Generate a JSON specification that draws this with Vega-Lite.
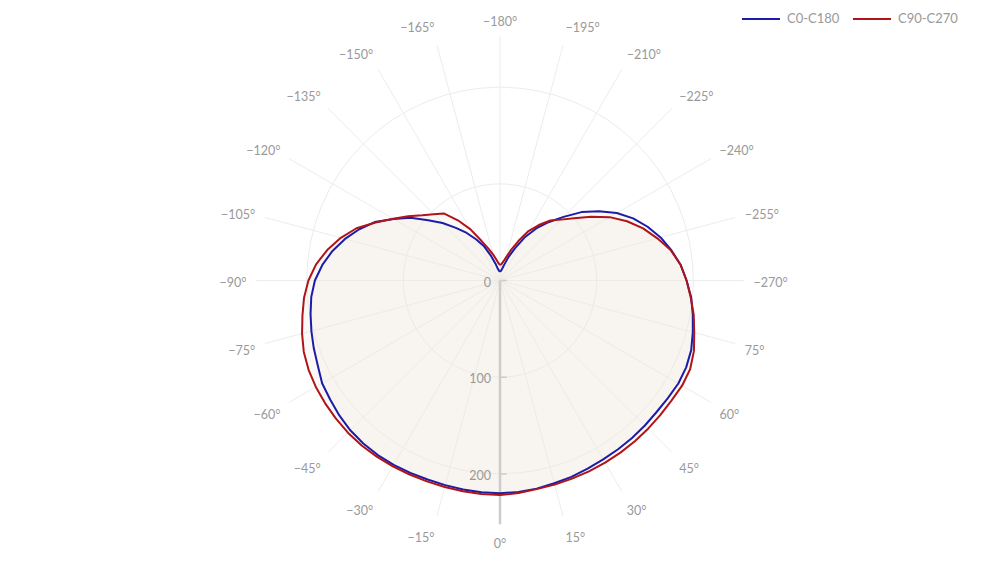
{
  "$schema": "https://vega.github.io/schema/vega-lite/v6.json",
  "width": 580,
  "height": 561,
  "autosize": "none",
  "padding": {"left": 210, "top": 0, "right": 210, "bottom": 2},
  "background": "white",
  "config": {"view": {"stroke": null}},
  "datasets": {
    "curves": [
      {"series": "C0-C180", "angle": -180, "r": 9}, {"series": "C0-C180", "angle": -175, "r": 10}, {"series": "C0-C180", "angle": -170, "r": 12}, {"series": "C0-C180", "angle": -165, "r": 18}, {"series": "C0-C180", "angle": -160, "r": 27}, {"series": "C0-C180", "angle": -155, "r": 39}, {"series": "C0-C180", "angle": -150, "r": 49}, {"series": "C0-C180", "angle": -145, "r": 60}, {"series": "C0-C180", "angle": -140, "r": 71}, {"series": "C0-C180", "angle": -135, "r": 84}, {"series": "C0-C180", "angle": -130, "r": 97}, {"series": "C0-C180", "angle": -125, "r": 113}, {"series": "C0-C180", "angle": -120, "r": 127}, {"series": "C0-C180", "angle": -115, "r": 143}, {"series": "C0-C180", "angle": -110, "r": 155}, {"series": "C0-C180", "angle": -105, "r": 166}, {"series": "C0-C180", "angle": -100, "r": 176}, {"series": "C0-C180", "angle": -95, "r": 184.5}, {"series": "C0-C180", "angle": -90, "r": 191.5}, {"series": "C0-C180", "angle": -85, "r": 196}, {"series": "C0-C180", "angle": -80, "r": 199}, {"series": "C0-C180", "angle": -75, "r": 202}, {"series": "C0-C180", "angle": -70, "r": 205}, {"series": "C0-C180", "angle": -65, "r": 208}, {"series": "C0-C180", "angle": -60, "r": 212.5}, {"series": "C0-C180", "angle": -55, "r": 214.5}, {"series": "C0-C180", "angle": -50, "r": 217}, {"series": "C0-C180", "angle": -45, "r": 219}, {"series": "C0-C180", "angle": -40, "r": 220}, {"series": "C0-C180", "angle": -35, "r": 220.3}, {"series": "C0-C180", "angle": -30, "r": 220}, {"series": "C0-C180", "angle": -25, "r": 219.5}, {"series": "C0-C180", "angle": -20, "r": 219}, {"series": "C0-C180", "angle": -15, "r": 219}, {"series": "C0-C180", "angle": -10, "r": 219.5}, {"series": "C0-C180", "angle": -5, "r": 219.8}, {"series": "C0-C180", "angle": 0, "r": 220}, {"series": "C0-C180", "angle": 5, "r": 219.5}, {"series": "C0-C180", "angle": 10, "r": 218.5}, {"series": "C0-C180", "angle": 15, "r": 217}, {"series": "C0-C180", "angle": 20, "r": 216}, {"series": "C0-C180", "angle": 25, "r": 214.5}, {"series": "C0-C180", "angle": 30, "r": 213.5}, {"series": "C0-C180", "angle": 35, "r": 213}, {"series": "C0-C180", "angle": 40, "r": 212.5}, {"series": "C0-C180", "angle": 45, "r": 212}, {"series": "C0-C180", "angle": 50, "r": 211.5}, {"series": "C0-C180", "angle": 55, "r": 212}, {"series": "C0-C180", "angle": 60, "r": 213}, {"series": "C0-C180", "angle": 65, "r": 212.5}, {"series": "C0-C180", "angle": 70, "r": 210.5}, {"series": "C0-C180", "angle": 75, "r": 206.5}, {"series": "C0-C180", "angle": 80, "r": 202.5}, {"series": "C0-C180", "angle": 85, "r": 198.5}, {"series": "C0-C180", "angle": 90, "r": 193}, {"series": "C0-C180", "angle": 95, "r": 187.5}, {"series": "C0-C180", "angle": 100, "r": 180}, {"series": "C0-C180", "angle": 105, "r": 172}, {"series": "C0-C180", "angle": 110, "r": 162.5}, {"series": "C0-C180", "angle": 115, "r": 152}, {"series": "C0-C180", "angle": 120, "r": 139.5}, {"series": "C0-C180", "angle": 125, "r": 125}, {"series": "C0-C180", "angle": 130, "r": 110}, {"series": "C0-C180", "angle": 135, "r": 93}, {"series": "C0-C180", "angle": 140, "r": 79}, {"series": "C0-C180", "angle": 145, "r": 66}, {"series": "C0-C180", "angle": 150, "r": 52}, {"series": "C0-C180", "angle": 155, "r": 37}, {"series": "C0-C180", "angle": 160, "r": 26}, {"series": "C0-C180", "angle": 165, "r": 17}, {"series": "C0-C180", "angle": 170, "r": 12}, {"series": "C0-C180", "angle": 175, "r": 10}, {"series": "C0-C180", "angle": 180, "r": 9},
      {"series": "C90-C270", "angle": -180, "r": 16}, {"series": "C90-C270", "angle": -175, "r": 18}, {"series": "C90-C270", "angle": -170, "r": 22}, {"series": "C90-C270", "angle": -165, "r": 28}, {"series": "C90-C270", "angle": -160, "r": 35}, {"series": "C90-C270", "angle": -155, "r": 45}, {"series": "C90-C270", "angle": -150, "r": 61}, {"series": "C90-C270", "angle": -145, "r": 76}, {"series": "C90-C270", "angle": -140, "r": 90.5}, {"series": "C90-C270", "angle": -135, "r": 97}, {"series": "C90-C270", "angle": -130, "r": 105}, {"series": "C90-C270", "angle": -125, "r": 116}, {"series": "C90-C270", "angle": -120, "r": 127.5}, {"series": "C90-C270", "angle": -115, "r": 142}, {"series": "C90-C270", "angle": -110, "r": 158}, {"series": "C90-C270", "angle": -105, "r": 170.5}, {"series": "C90-C270", "angle": -100, "r": 181.5}, {"series": "C90-C270", "angle": -95, "r": 191}, {"series": "C90-C270", "angle": -90, "r": 198.2}, {"series": "C90-C270", "angle": -85, "r": 203.5}, {"series": "C90-C270", "angle": -80, "r": 207.5}, {"series": "C90-C270", "angle": -75, "r": 212}, {"series": "C90-C270", "angle": -70, "r": 216}, {"series": "C90-C270", "angle": -65, "r": 218.5}, {"series": "C90-C270", "angle": -60, "r": 220}, {"series": "C90-C270", "angle": -55, "r": 221}, {"series": "C90-C270", "angle": -50, "r": 221.8}, {"series": "C90-C270", "angle": -45, "r": 222.5}, {"series": "C90-C270", "angle": -40, "r": 222.6}, {"series": "C90-C270", "angle": -35, "r": 222.3}, {"series": "C90-C270", "angle": -30, "r": 221.8}, {"series": "C90-C270", "angle": -25, "r": 221.3}, {"series": "C90-C270", "angle": -20, "r": 221}, {"series": "C90-C270", "angle": -15, "r": 221}, {"series": "C90-C270", "angle": -10, "r": 221.2}, {"series": "C90-C270", "angle": -5, "r": 221.5}, {"series": "C90-C270", "angle": 0, "r": 221.8}, {"series": "C90-C270", "angle": 5, "r": 220.5}, {"series": "C90-C270", "angle": 10, "r": 219}, {"series": "C90-C270", "angle": 15, "r": 218.5}, {"series": "C90-C270", "angle": 20, "r": 218}, {"series": "C90-C270", "angle": 25, "r": 217.8}, {"series": "C90-C270", "angle": 30, "r": 217.5}, {"series": "C90-C270", "angle": 35, "r": 217.2}, {"series": "C90-C270", "angle": 40, "r": 217}, {"series": "C90-C270", "angle": 45, "r": 216.7}, {"series": "C90-C270", "angle": 50, "r": 216.4}, {"series": "C90-C270", "angle": 55, "r": 216.5}, {"series": "C90-C270", "angle": 60, "r": 217.5}, {"series": "C90-C270", "angle": 65, "r": 217}, {"series": "C90-C270", "angle": 70, "r": 213.5}, {"series": "C90-C270", "angle": 75, "r": 208}, {"series": "C90-C270", "angle": 80, "r": 203.5}, {"series": "C90-C270", "angle": 85, "r": 198}, {"series": "C90-C270", "angle": 90, "r": 193}, {"series": "C90-C270", "angle": 95, "r": 187.5}, {"series": "C90-C270", "angle": 100, "r": 179.5}, {"series": "C90-C270", "angle": 105, "r": 168.5}, {"series": "C90-C270", "angle": 110, "r": 157.5}, {"series": "C90-C270", "angle": 115, "r": 145}, {"series": "C90-C270", "angle": 120, "r": 131}, {"series": "C90-C270", "angle": 125, "r": 115}, {"series": "C90-C270", "angle": 130, "r": 100}, {"series": "C90-C270", "angle": 135, "r": 89}, {"series": "C90-C270", "angle": 140, "r": 81}, {"series": "C90-C270", "angle": 145, "r": 70}, {"series": "C90-C270", "angle": 150, "r": 59}, {"series": "C90-C270", "angle": 155, "r": 45}, {"series": "C90-C270", "angle": 160, "r": 34}, {"series": "C90-C270", "angle": 165, "r": 25}, {"series": "C90-C270", "angle": 170, "r": 20}, {"series": "C90-C270", "angle": 175, "r": 17}, {"series": "C90-C270", "angle": 180, "r": 16}
    ],
    "spokes": [
      {"angle": 0, "label": "0°"}, {"angle": 15, "label": "15°"}, {"angle": 30, "label": "30°"}, {"angle": 45, "label": "45°"}, {"angle": 60, "label": "60°"}, {"angle": 75, "label": "75°"},
      {"angle": 90, "label": "−270°"}, {"angle": 105, "label": "−255°"}, {"angle": 120, "label": "−240°"}, {"angle": 135, "label": "−225°"}, {"angle": 150, "label": "−210°"}, {"angle": 165, "label": "−195°"},
      {"angle": 180, "label": "−180°"}, {"angle": -165, "label": "−165°"}, {"angle": -150, "label": "−150°"}, {"angle": -135, "label": "−135°"}, {"angle": -120, "label": "−120°"}, {"angle": -105, "label": "−105°"},
      {"angle": -90, "label": "−90°"}, {"angle": -75, "label": "−75°"}, {"angle": -60, "label": "−60°"}, {"angle": -45, "label": "−45°"}, {"angle": -30, "label": "−30°"}, {"angle": -15, "label": "−15°"}
    ],
    "rings": [{"r": 100}, {"r": 200}],
    "rticks": [{"r": 0, "label": "0"}, {"r": 100, "label": "100"}, {"r": 200, "label": "200"}]
  },
  "layer": [
    {
      "data": {"name": "rings"},
      "transform": [{"calculate": "0", "as": "z"}],
      "mark": {"type": "point", "shape": "circle", "filled": false, "color": "#ececec", "strokeWidth": 1, "opacity": 1},
      "encoding": {
        "x": {"field": "z", "type": "quantitative", "scale": {"domain": [-300, 300], "nice": false, "zero": false}, "axis": null},
        "y": {"field": "z", "type": "quantitative", "scale": {"domain": [-290, 290], "nice": false, "zero": false}, "axis": null},
        "size": {"field": "r", "type": "quantitative", "legend": null, "scale": {"type": "pow", "exponent": 2, "domain": [0, 300], "range": [0, 336400], "zero": true}}
      }
    },
    {
      "data": {"name": "spokes"},
      "transform": [
        {"calculate": "0", "as": "z"},
        {"calculate": "252*sin(datum.angle*PI/180)", "as": "gx"},
        {"calculate": "-252*cos(datum.angle*PI/180)", "as": "gy"}
      ],
      "mark": {"type": "rule", "color": "#ececec", "strokeWidth": 1},
      "encoding": {
        "x": {"field": "z", "type": "quantitative"},
        "y": {"field": "z", "type": "quantitative"},
        "x2": {"field": "gx"},
        "y2": {"field": "gy"}
      }
    },
    {
      "data": {"name": "curves"},
      "transform": [
        {"calculate": "datum.r*sin(datum.angle*PI/180)", "as": "x"},
        {"calculate": "-datum.r*cos(datum.angle*PI/180)", "as": "y"}
      ],
      "mark": {"type": "line", "fill": "#efeadc", "fillOpacity": 0.27, "strokeWidth": 0, "strokeOpacity": 0},
      "encoding": {
        "x": {"field": "x", "type": "quantitative"},
        "y": {"field": "y", "type": "quantitative"},
        "detail": {"field": "series", "type": "nominal"},
        "order": {"field": "angle", "type": "quantitative"}
      }
    },
    {
      "data": {"values": [{"a": 0}]},
      "transform": [{"calculate": "0", "as": "z"}, {"calculate": "-252", "as": "ye"}],
      "mark": {"type": "rule", "color": "#cccccc", "strokeWidth": 2.5},
      "encoding": {
        "x": {"field": "z", "type": "quantitative"},
        "y": {"field": "z", "type": "quantitative"},
        "y2": {"field": "ye"}
      }
    },
    {
      "data": {"name": "rticks"},
      "transform": [{"calculate": "-datum.r", "as": "ty"}, {"calculate": "0", "as": "z"}, {"calculate": "7", "as": "xe"}],
      "mark": {"type": "rule", "color": "#cccccc", "strokeWidth": 1.5},
      "encoding": {
        "x": {"field": "z", "type": "quantitative"},
        "x2": {"field": "xe"},
        "y": {"field": "ty", "type": "quantitative"}
      }
    },
    {
      "data": {"name": "rticks"},
      "transform": [{"calculate": "-datum.r", "as": "ty"}, {"calculate": "0", "as": "z"}],
      "mark": {"type": "text", "align": "right", "baseline": "middle", "dx": -9, "dy": 2, "font": "Lato", "fontSize": 12.5, "color": "#999999"},
      "encoding": {
        "x": {"field": "z", "type": "quantitative"},
        "y": {"field": "ty", "type": "quantitative"},
        "text": {"field": "label", "type": "nominal"}
      }
    },
    {
      "data": {"name": "curves"},
      "transform": [
        {"calculate": "datum.r*sin(datum.angle*PI/180)", "as": "x"},
        {"calculate": "-datum.r*cos(datum.angle*PI/180)", "as": "y"}
      ],
      "mark": {"type": "line", "strokeWidth": 2, "strokeJoin": "round"},
      "encoding": {
        "x": {"field": "x", "type": "quantitative"},
        "y": {"field": "y", "type": "quantitative"},
        "order": {"field": "angle", "type": "quantitative"},
        "color": {
          "field": "series",
          "type": "nominal",
          "scale": {"domain": ["C0-C180", "C90-C270"], "range": ["#1c1ca8", "#b01418"]},
          "legend": {"title": null, "orient": "none", "legendX": 531, "legendY": -1, "direction": "horizontal", "symbolType": "stroke", "symbolSize": 1444, "symbolStrokeWidth": 2, "labelFont": "Lato", "labelFontSize": 13, "labelColor": "#999999", "labelOffset": 6, "columnPadding": 9}
        }
      }
    },
    {
      "data": {"name": "spokes"},
      "transform": [
        {"filter": "sin(datum.angle*PI/180) < -0.1"},
        {"calculate": "262.2*sin(datum.angle*PI/180)", "as": "lx"},
        {"calculate": "-262.2*cos(datum.angle*PI/180) - 2.6 - 10.3*cos(datum.angle*PI/180)", "as": "ly"}
      ],
      "mark": {"type": "text", "align": "right", "baseline": "middle", "font": "Lato", "fontSize": 12.5, "color": "#999999"},
      "encoding": {
        "x": {"field": "lx", "type": "quantitative"},
        "y": {"field": "ly", "type": "quantitative"},
        "text": {"field": "label", "type": "nominal"}
      }
    },
    {
      "data": {"name": "spokes"},
      "transform": [
        {"filter": "sin(datum.angle*PI/180) > 0.1"},
        {"calculate": "262.2*sin(datum.angle*PI/180)", "as": "lx"},
        {"calculate": "-262.2*cos(datum.angle*PI/180) - 2.6 - 10.3*cos(datum.angle*PI/180)", "as": "ly"}
      ],
      "mark": {"type": "text", "align": "left", "baseline": "middle", "font": "Lato", "fontSize": 12.5, "color": "#999999"},
      "encoding": {
        "x": {"field": "lx", "type": "quantitative"},
        "y": {"field": "ly", "type": "quantitative"},
        "text": {"field": "label", "type": "nominal"}
      }
    },
    {
      "data": {"name": "spokes"},
      "transform": [
        {"filter": "abs(sin(datum.angle*PI/180)) <= 0.1"},
        {"calculate": "259.6*sin(datum.angle*PI/180)", "as": "lx"},
        {"calculate": "-259.6*cos(datum.angle*PI/180) - 2.6 - 10.3*cos(datum.angle*PI/180)", "as": "ly"}
      ],
      "mark": {"type": "text", "align": "center", "baseline": "middle", "font": "Lato", "fontSize": 12.5, "color": "#999999"},
      "encoding": {
        "x": {"field": "lx", "type": "quantitative"},
        "y": {"field": "ly", "type": "quantitative"},
        "text": {"field": "label", "type": "nominal"}
      }
    }
  ]
}
